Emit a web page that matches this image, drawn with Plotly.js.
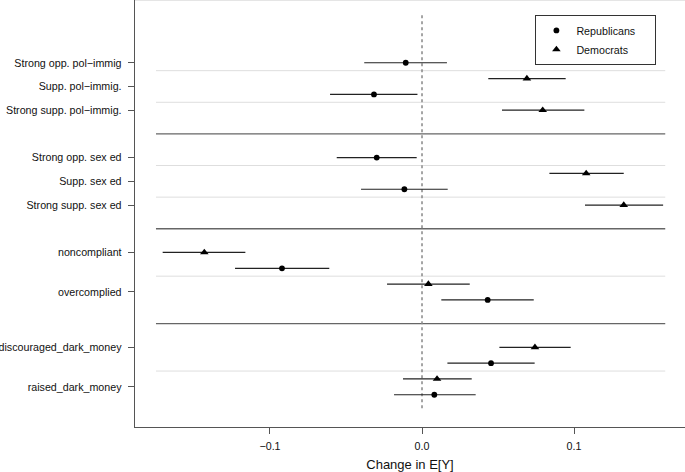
<!DOCTYPE html>
<html>
<head>
<meta charset="utf-8">
<script src="https://cdn.plot.ly/plotly-3.0.1.min.js"></script>
<style>html,body{margin:0;padding:0;background:#fff;}#chart{width:685px;height:472px;}</style>
</head>
<body>
<div id="chart"></div>
<script>
// Rows, top to bottom (four groups of four estimates)
const rowParty = ['R','D','R','D', 'R','D','R','D', 'D','R','D','R', 'D','R','D','R'];
const estimate = [-0.0107, 0.0690, -0.0316, 0.0794, -0.0298, 0.1080, -0.0116, 0.1327,
                  -0.1432, -0.0921, 0.0042, 0.0432, 0.0743, 0.0454, 0.0099, 0.0081];
const ciLow    = [-0.0380, 0.0436, -0.0605, 0.0526, -0.0561, 0.0838, -0.0401, 0.1072,
                  -0.1706, -0.1230, -0.0230, 0.0127, 0.0509, 0.0167, -0.0125, -0.0184];
const ciHigh   = [0.0164, 0.0945, -0.0030, 0.1068, -0.0035, 0.1327, 0.0169, 0.1586,
                  -0.1162, -0.0610, 0.0314, 0.0735, 0.0978, 0.0741, 0.0327, 0.0353];
const tickLabels = ['Strong opp. pol\u2212immig', 'Supp. pol\u2212immig.', 'Strong supp. pol\u2212immig.',
                    'Strong opp. sex ed', 'Supp. sex ed', 'Strong supp. sex ed',
                    'noncompliant', 'overcomplied',
                    'discouraged_dark_money', 'raised_dark_money'];
const tickRows = [0, 1.5, 3, 6, 7.5, 9, 12, 14.5, 18, 20.5];
const partyNames = {R: 'Republicans', D: 'Democrats'};
const partySymbols = {R: 'circle', D: 'triangle-up'};
const partySizes = {R: 5.8, D: 7.5};

// row position: group * 6 + index within group
const rowPos = estimate.map((_, i) => Math.floor(i / 4) * 6 + (i % 4));

function partyTrace(p) {
  const idx = rowParty.map((q, i) => q === p ? i : -1).filter(i => i >= 0);
  return {
    type: 'scatter', mode: 'markers',
    // trailing non-breaking spaces only widen the legend box
    name: partyNames[p] + '\u00a0\u00a0\u00a0\u00a0\u00a0',
    x: idx.map(i => estimate[i]),
    y: idx.map(i => rowPos[i]),
    marker: {symbol: partySymbols[p], size: partySizes[p], color: '#000'},
    error_x: {type: 'data', symmetric: false,
      array: idx.map(i => ciHigh[i] - estimate[i]),
      arrayminus: idx.map(i => estimate[i] - ciLow[i]),
      width: 0, thickness: 1.2, color: '#222'},
    hoverinfo: 'x+y'
  };
}

const data = [partyTrace('R'), partyTrace('D')];

const shapes = [];
[4.5, 10.5, 16.5].forEach(y => shapes.push({type: 'line', xref: 'x', yref: 'y', x0: -0.175, x1: 0.16, y0: y, y1: y,
  line: {color: '#666', width: 1.4}, layer: 'below'}));
[0.5, 2.5, 6.5, 8.5, 13.5, 19.5].forEach(y => shapes.push({type: 'line', xref: 'x', yref: 'y', x0: -0.175, x1: 0.16, y0: y, y1: y,
  line: {color: '#dedede', width: 1}, layer: 'below'}));
shapes.push({type: 'line', xref: 'x', yref: 'y', x0: 0, x1: 0, y0: -3, y1: 22,
  line: {color: '#888', width: 1.5, dash: 'dot'}, layer: 'below'});
shapes.push({type: 'line', xref: 'paper', yref: 'paper', x0: 0, x1: 1, y0: 1, y1: 1,
  line: {color: '#dddddd', width: 1.5}});

const layout = {
  width: 685, height: 472,
  margin: {l: 135, r: 0, t: 0, b: 45, pad: 0},
  paper_bgcolor: '#fff', plot_bgcolor: '#fff',
  font: {family: 'Liberation Sans, Arial, sans-serif', size: 10.7, color: '#111'},
  showlegend: true,
  legend: {x: 0.728, y: 0.965, xanchor: 'left', yanchor: 'top',
    bordercolor: '#333', borderwidth: 1, bgcolor: '#fff',
    font: {size: 10.7}},
  xaxis: {range: [-0.1888, 0.173], tickvals: [-0.1, 0, 0.1], tickformat: '.1f',
    ticks: 'outside', ticklen: 6, tickcolor: '#555', tickwidth: 1, ticklabelstandoff: 3,
    showline: true, linecolor: '#555', linewidth: 1.3, showgrid: false, zeroline: false,
    title: {text: 'Change in E[Y]', standoff: 10}},
  yaxis: {range: [23.04, -3.97], tickvals: tickRows, ticktext: tickLabels,
    ticks: 'outside', ticklen: 6, tickcolor: '#555', tickwidth: 1, ticklabelstandoff: 4,
    showline: true, linecolor: '#555', linewidth: 1.3, showgrid: false, zeroline: false},
  shapes: shapes
};

Plotly.newPlot('chart', data, layout, {displayModeBar: false, staticPlot: true});
</script>
</body>
</html>
